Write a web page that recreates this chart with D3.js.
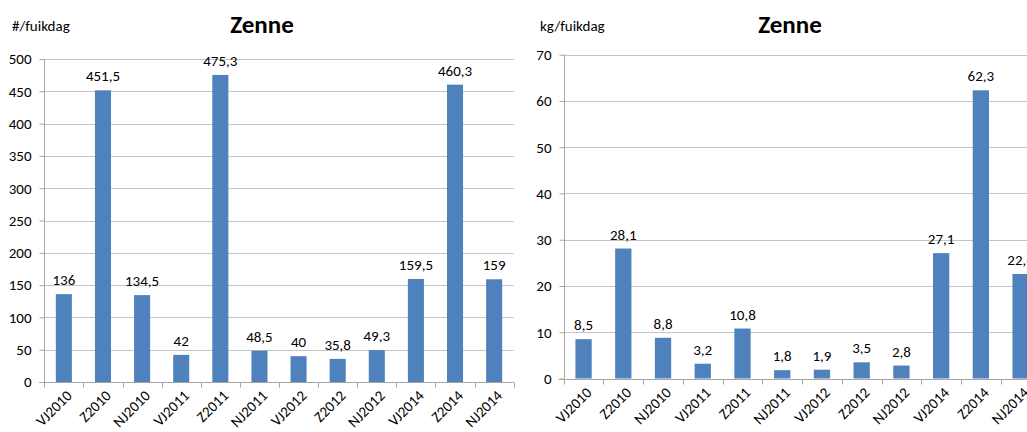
<!DOCTYPE html>
<html>
<head>
<meta charset="utf-8">
<script src="https://cdn.jsdelivr.net/npm/d3@7"></script>
<style>
  html, body { margin: 0; padding: 0; background: #fff; }
  svg { display: block; }
  text { font-family: Carlito, Lato, "Open Sans", sans-serif; fill: #000; }
</style>
</head>
<body>
<svg id="chart" width="1027" height="432"></svg>
<script>
const categories = ["VJ2010","Z2010","NJ2010","VJ2011","Z2011","NJ2011","VJ2012","Z2012","NJ2012","VJ2014","Z2014","NJ2014"];
const countValues = [136, 451.5, 134.5, 42, 475.3, 48.5, 40, 35.8, 49.3, 159.5, 460.3, 159];
const weightValues = [8.5, 28.1, 8.8, 3.2, 10.8, 1.8, 1.9, 3.5, 2.8, 27.1, 62.3, 22.6];
const countTicks = [0, 50, 100, 150, 200, 250, 300, 350, 400, 450, 500];
const weightTicks = [0, 10, 20, 30, 40, 50, 60, 70];
const title = "Zenne";
const countUnit = "#/fuikdag";
const weightUnit = "kg/fuikdag";

const svg = d3.select("#chart");
const fmt = v => String(v).replace(".", ",");
const FS = "15px";

function drawChart(cfg) {
  const g = svg.append("g");
  const x = d3.scaleBand().domain(categories).range([cfg.x0, cfg.x1]).paddingInner(0).paddingOuter(0);
  const y = d3.scaleLinear().domain([0, cfg.max]).range([cfg.y0, cfg.yTop]);

  // gridlines
  g.append("g").selectAll("line").data(cfg.ticks.filter(t => t > 0)).join("line")
    .attr("x1", cfg.x0).attr("x2", cfg.x1)
    .attr("y1", d => Math.round(y(d)) + 0.5).attr("y2", d => Math.round(y(d)) + 0.5)
    .attr("stroke", "#c4c4c4").attr("stroke-width", 1);

  // bars
  const bw = x.bandwidth() * 0.41;
  g.append("g").selectAll("rect").data(categories).join("rect")
    .attr("x", (d, i) => x(d) + x.bandwidth() / 2 - bw / 2)
    .attr("y", (d, i) => y(cfg.values[i]))
    .attr("width", bw)
    .attr("height", (d, i) => y(0) - y(cfg.values[i]))
    .attr("fill", "#4f81bd");

  // value labels
  g.append("g").selectAll("text").data(categories).join("text")
    .attr("x", d => x(d) + x.bandwidth() / 2)
    .attr("y", (d, i) => y(cfg.values[i]) - 9)
    .attr("text-anchor", "middle")
    .attr("font-size", FS)
    .text((d, i) => fmt(cfg.values[i]));

  // y axis
  const yAxis = d3.axisLeft(y).tickValues(cfg.ticks).tickSize(5).tickPadding(8).tickFormat(d => d);
  const ya = g.append("g").attr("transform", `translate(${Math.round(cfg.x0) + 0.5},0)`).call(yAxis);
  ya.select(".domain").attr("stroke", "#a6a6a6").attr("d", `M0,${cfg.yTop}V${cfg.y0}`);
  ya.selectAll(".tick line").attr("stroke", "#a6a6a6");
  ya.selectAll(".tick text").attr("font-size", FS).attr("font-family", "Carlito, Lato, 'Open Sans', sans-serif").attr("fill", "#000");

  // x axis
  const xa = g.append("g").attr("transform", `translate(0,${Math.round(cfg.y0) + 0.5})`);
  xa.append("line").attr("x1", cfg.x0 - 5).attr("x2", cfg.x1).attr("stroke", "#a6a6a6");
  const bounds = categories.map(d => x(d)).concat([cfg.x1]);
  xa.selectAll("line.t").data(bounds).join("line").attr("class", "t")
    .attr("x1", d => Math.round(d) + 0.5).attr("x2", d => Math.round(d) + 0.5)
    .attr("y1", 0).attr("y2", 5).attr("stroke", "#a6a6a6");
  xa.selectAll("text").data(categories).join("text")
    .attr("transform", d => `translate(${x(d) + x.bandwidth() / 2 + 9},${14}) rotate(-45)`)
    .attr("text-anchor", "end")
    .attr("font-size", FS)
    .text(d => d);

  // title and unit
  g.append("text").attr("x", cfg.titleX).attr("y", 33).attr("text-anchor", "middle")
    .attr("font-size", "25px").attr("font-weight", "bold").text(title);
  g.append("text").attr("x", cfg.unitX).attr("y", 31).attr("font-size", "15px").text(cfg.unit);
}

drawChart({ x0: 44.3, x1: 513.7, y0: 382, yTop: 59, max: 500, ticks: countTicks,
  values: countValues, titleX: 262, unitX: 12, unit: countUnit });
drawChart({ x0: 563.7, x1: 563.7 + 12 * 39.73, y0: 378.5, yTop: 54.7, max: 70, ticks: weightTicks,
  values: weightValues, titleX: 790, unitX: 540, unit: weightUnit });
</script>
</body>
</html>
